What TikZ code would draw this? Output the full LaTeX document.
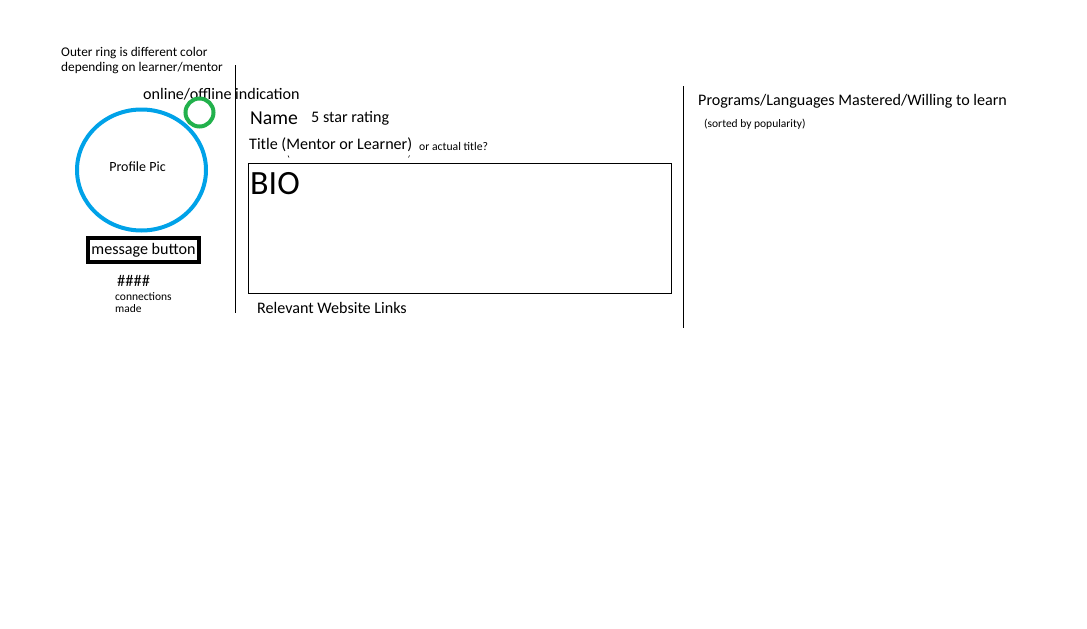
\documentclass[tikz,border=0pt]{standalone}
\usepackage{fontspec}
\setmainfont{Carlito}
\definecolor{ringblue}{HTML}{00A2E8}
\definecolor{dotgreen}{HTML}{22B14C}
\tikzset{
	note/.style={anchor=west,inner sep=0pt,text=black},
	tiny/.style={font=\fontsize{11.5}{12}\selectfont},
	small/.style={font=\fontsize{13.3}{15}\selectfont},
	normal/.style={font=\fontsize{16.1}{17}\selectfont},
	divider/.style={draw=black,line width=1pt}
}
\begin{document}
\begin{tikzpicture}[x=1pt,y=-1pt]
	\useasboundingbox (0,0) rectangle (1087,629);
	% left column
	\node[note,small,align=left] (ring) at (61,61) {Outer ring is different color\\depending on learner/mentor};
	\draw[ringblue,line width=4pt] (141.5,170) ellipse (64.5 and 60.5);
	\node[inner sep=0pt,font=\fontsize{14}{15}\selectfont] (pic) at (137.5,166.5) {Profile Pic};
	\node[note,normal] (online) at (143,94.5) {online/offline indication};
	\draw[dotgreen,line width=4pt] (199.5,112.5) circle (14);
	\node[draw=black,line width=4pt,normal,minimum width=111pt,minimum height=24pt,inner sep=0pt] (msg) at (143.5,250) {message button};
	\node[note,font=\fontsize{16.5}{15}\selectfont] (hash) at (117,280.5) {\#\#\#\#};
	\node[note,tiny,align=left] (conn) at (115,302.5) {connections\\made};
	\coordinate (d1a) at (235,65);
	\coordinate (d1b) at (235,313);
	\draw[divider] (d1a) -- (d1b);
	% middle column
	\node[note,font=\fontsize{19.7}{21}\selectfont] (name) at (250,118.5) {Name};
	\node[note,normal] (stars) at (311,118.5) {5 star rating};
	\node[note,normal] (title) at (249,144.5) {Title (Mentor or Learner)};
	\node[note,font=\fontsize{11.7}{12}\selectfont] (actual) at (419,146.5) {or actual title?};
	\draw[line width=0.6pt] (288,155.5) -- (289,157.5);
	\draw[line width=0.6pt] (409.5,155.5) -- (408.5,157.5);
	\node[draw=black,line width=1pt,minimum width=423pt,minimum height=130pt,inner sep=0pt] (bio) at (459.5,228) {};
	\node[note,font=\fontsize{34}{36}\selectfont] (biotxt) at (250,183.5) {BIO};
	\node[note,normal] (links) at (257,307.5) {Relevant Website Links};
	\coordinate (d2a) at (683,86);
	\coordinate (d2b) at (683,328);
	\draw[divider] (d2a) -- (d2b);
	% right column
	\node[note,normal] (progs) at (698,101.5) {Programs/Languages Mastered/Willing to learn};
	\node[note,tiny] (sorted) at (704,124.5) {(sorted by popularity)};
\end{tikzpicture}
\end{document}
